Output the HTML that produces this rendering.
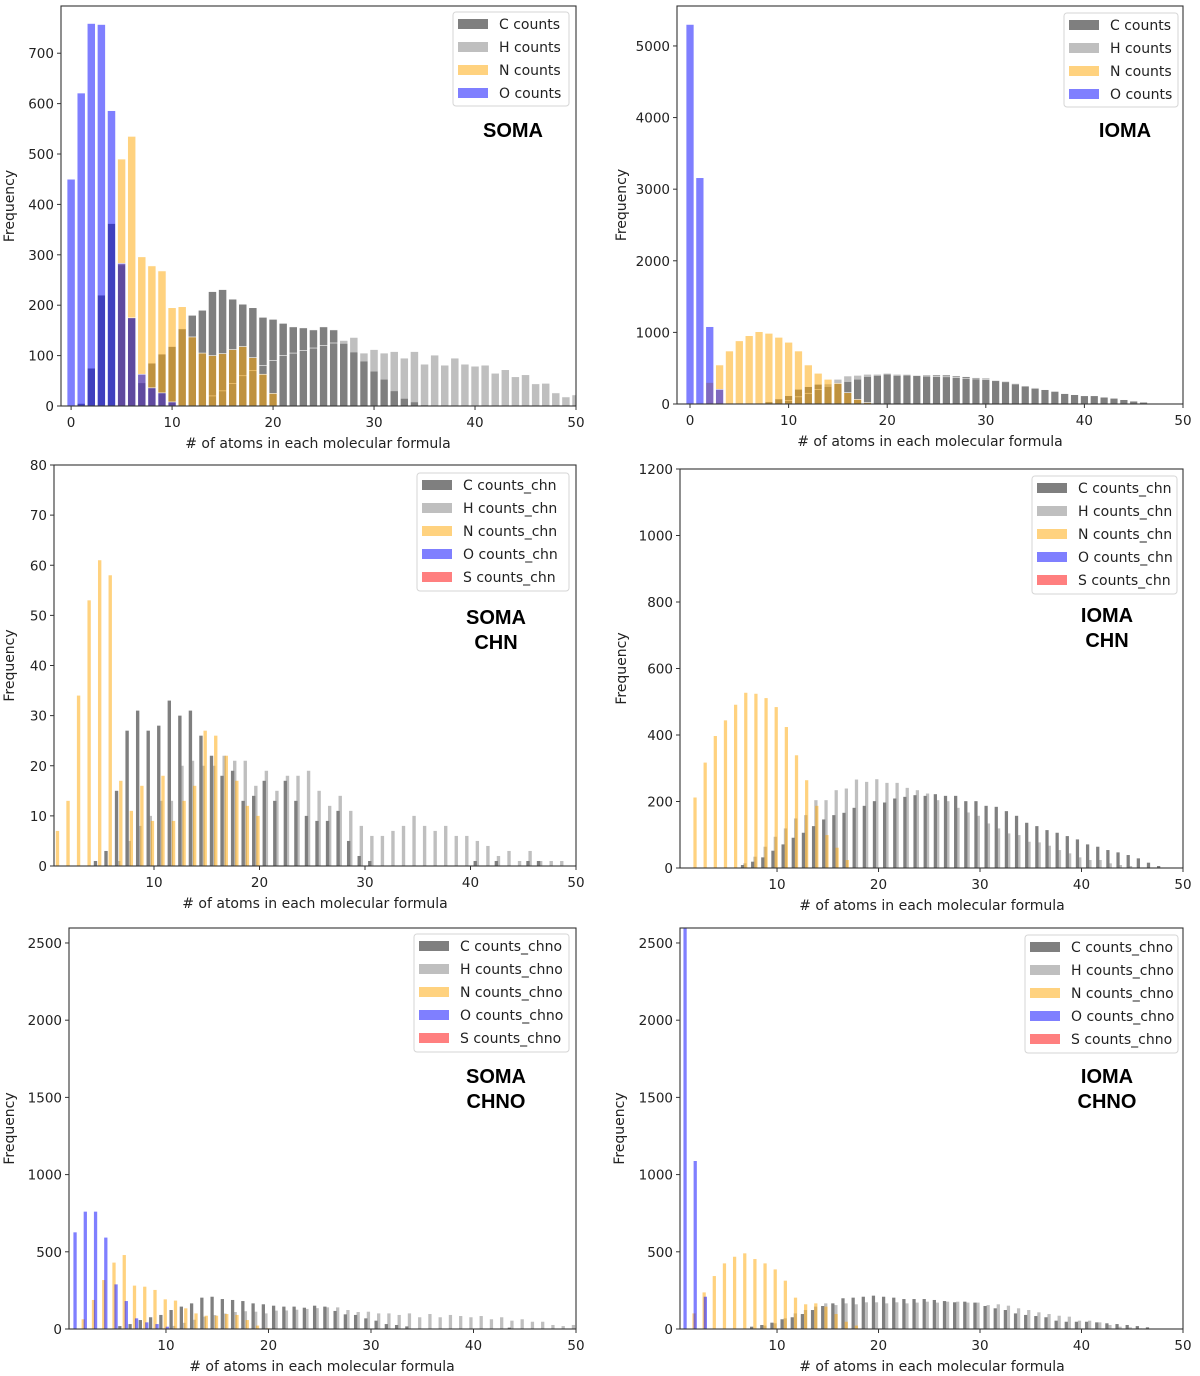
<!DOCTYPE html>
<html><head><meta charset="utf-8">
<style>
html,body{margin:0;padding:0;background:#fff;}
svg{display:block;font-family:"DejaVu Sans","Liberation Sans",sans-serif;}
</style></head>
<body>
<svg id="fig" width="1200" height="1376" viewBox="0 0 1200 1376" xmlns="http://www.w3.org/2000/svg"></svg>
<script>
// ---------- data ----------
// Panel 1: SOMA
const p1CStart = 1;
const p1C = [5,75,220,362,280,175,46,85,103,118,153,180,190,227,231,212,202,195,176,172,164,157,155,151,157,151,124,107,89,69,53,30,15,8,2];
const p1HStart = 14;
const p1H = [20,30,45,60,70,80,90,100,105,110,115,120,125,130,136,105,112,105,108,95,108,83,101,81,95,83,79,81,65,72,58,62,44,45,26,18,22];
const p1NStart = 5;
const p1N = [490,535,296,278,268,195,197,137,105,100,104,112,118,96,63,25];
const p1OStart = 0;
const p1O = [450,621,759,757,586,283,175,63,36,26,8];
const p1YTicks = [0,100,200,300,400,500,600,700];
// Panel 2: IOMA
const p2CStart = 8;
const p2C = [30,70,116,205,242,275,242,289,312,345,382,396,415,396,415,405,405,405,405,391,382,368,359,335,321,289,256,228,205,182,149,135,121,121,102,88,65,42,28,10];
const p2HStart = 10;
const p2H = [50,100,150,200,280,345,391,400,415,415,429,415,405,395,390,385,380,370,360,350,340,325,310,280,250,220,200,175,145,130,115,115,95,80,60,40,25,8];
const p2NStart = 2;
const p2N = [300,545,740,882,954,1010,987,931,862,740,545,429,345,289,158,65,20];
const p2OStart = 0;
const p2O = [5300,3160,1080,205];
const p2YTicks = [0,1000,2000,3000,4000,5000];
// Panel 3: SOMA CHN
const p3CStart = 4;
const p3C = [1,3,15,27,31,27,28,33,30,31,26,22,18,19,13,14,17,13,17,13,10,9,9,11,5,2,1,0,0,0,0,0,0,0,0,0,1,0,1,0,0,1,1];
const p3HStart = 6;
const p3H = [1,5,8,10,13,13,20,21,20,20,22,21,21,16,19,15,18,18,19,15,12,14,11,8,6,6,7,8,10,8,7,8,6,6,5,4,2,3,1,3,1,1,1];
const p3NStart = 1;
const p3N = [7,13,34,53,61,58,17,11,16,9,18,9,13,16,27,26,22,17,12,10];
const p3OStart = 1;
const p3O = [];
const p3YTicks = [0,10,20,30,40,50,60,70,80];
// Panel 4: IOMA CHN
const p4CStart = 6;
const p4C = [9,19,32,52,71,91,106,126,146,159,166,181,187,201,197,209,214,219,217,222,217,217,201,201,187,184,171,157,136,126,114,106,96,86,71,64,54,47,39,29,16,6];
const p4HStart = 6;
const p4H = [14,34,64,94,119,149,159,204,204,234,239,266,259,267,256,256,241,234,224,204,201,181,167,157,134,119,104,99,79,77,67,54,44,32,24,24,14,9,6];
const p4NStart = 2;
const p4N = [212,317,397,444,491,527,524,511,484,424,339,264,187,99,61,24];
const p4OStart = 1;
const p4O = [];
const p4YTicks = [0,200,400,600,800,1000,1200];
// Panel 5: SOMA CHNO
const p5CStart = 5;
const p5C = [19,32,58,76,91,123,145,166,203,209,194,188,181,166,160,151,145,145,138,151,145,117,95,91,69,54,32,26,17,0,0,0,0,0,0,0,0,0,9];
const p5HStart = 10;
const p5H = [20,40,60,80,90,100,110,115,112,101,119,120,125,130,135,140,140,123,110,112,101,101,91,101,76,97,76,91,84,76,84,63,76,54,63,47,47,26,19,26,20];
const p5NStart = 2;
const p5N = [63,188,317,430,479,281,274,253,192,184,134,101,86,86,97,91,58,22,5];
const p5OStart = 1;
const p5O = [626,760,760,592,289,181,69,43,32,15];
const p5YTicks = [0,500,1000,1500,2000,2500];
// Panel 6: IOMA CHNO
const p6CStart = 7;
const p6C = [15,26,41,63,76,97,123,149,166,199,203,209,216,209,203,194,194,194,188,181,173,177,171,149,134,123,101,91,84,76,54,47,47,47,43,37,32,26,19,11];
const p6HStart = 8;
const p6H = [22,37,69,101,123,145,166,155,166,160,173,173,166,173,166,171,177,171,177,177,171,171,155,160,151,134,123,108,97,86,80,54,54,43,26,15,11,4];
const p6NStart = 2;
const p6N = [101,237,343,425,468,490,453,425,386,313,203,160,166,145,97,47,22];
const p6OStart = 1;
const p6O = [3200,1088,209];
const p6YTicks = [0,500,1000,1500,2000,2500];
const xTicksWide = [0,10,20,30,40,50];
const xTicksNarrow = [10,20,30,40,50];

// ---------- rendering ----------
const NS = "http://www.w3.org/2000/svg";
const svg = document.getElementById('fig');
const COLORS = {C:'rgba(0,0,0,0.5)',H:'rgba(128,128,128,0.5)',N:'rgba(255,165,0,0.5)',O:'rgba(0,0,255,0.5)',S:'rgba(255,0,0,0.5)'};
function mk(tag, attrs, parent){
  const e = document.createElementNS(NS, tag);
  for (const k in attrs) e.setAttribute(k, attrs[k]);
  (parent||svg).appendChild(e);
  return e;
}
const defs = mk('defs',{});

const panels = [
 {id:'soma', L:61,R:576,T:6,B:406, xmin:-1.0,xmax:50, ymax:793.7, yt:p1YTicks, xt:xTicksWide, wide:true,
  series:[['C',p1CStart,p1C,0],['H',p1HStart,p1H,0],['N',p1NStart,p1N,0],['O',p1OStart,p1O,0]],
  leg:{x:453,y:12,w:116,h:94,labels:['C counts','H counts','N counts','O counts']},
  title:['SOMA'], tx:513, ty:137, ylx:14, xlx:318, xly:448},
 {id:'ioma', L:677,R:1183,T:6,B:404, xmin:-1.32,xmax:50, ymax:5558, yt:p2YTicks, xt:xTicksWide, wide:true,
  series:[['C',p2CStart,p2C,0],['H',p2HStart,p2H,0],['N',p2NStart,p2N,0],['O',p2OStart,p2O,0]],
  leg:{x:1064,y:13,w:114,h:94,labels:['C counts','H counts','N counts','O counts']},
  title:['IOMA'], tx:1125, ty:137, ylx:626, xlx:930, xly:446},
 {id:'soma-chn', L:54,R:576,T:465,B:866, xmin:0.52,xmax:50, ymax:80, yt:p3YTicks, xt:xTicksNarrow, wide:false,
  series:[['C',p3CStart,p3C,0.45],['H',p3HStart,p3H,0.65],['N',p3NStart,p3N,-0.15],['O',p3OStart,p3O,0]],
  leg:{x:417,y:473,w:152,h:118,labels:['C counts_chn','H counts_chn','N counts_chn','O counts_chn','S counts_chn']},
  title:['SOMA','CHN'], tx:496, ty:624, ylx:14, xlx:315, xly:908},
 {id:'ioma-chn', L:680,R:1183,T:469,B:868, xmin:0.44,xmax:50, ymax:1200, yt:p4YTicks, xt:xTicksNarrow, wide:false,
  series:[['C',p4CStart,p4C,0.6],['H',p4HStart,p4H,0.83],['N',p4NStart,p4N,-0.08],['O',p4OStart,p4O,0]],
  leg:{x:1032,y:476,w:145,h:118,labels:['C counts_chn','H counts_chn','N counts_chn','O counts_chn','S counts_chn']},
  title:['IOMA','CHN'], tx:1107, ty:622, ylx:626, xlx:932, xly:910},
 {id:'soma-chno', L:69,R:576,T:928,B:1329, xmin:0.54,xmax:50, ymax:2597, yt:p5YTicks, xt:xTicksNarrow, wide:false,
  series:[['C',p5CStart,p5C,0.5],['H',p5HStart,p5H,0.75],['N',p5NStart,p5N,-0.07],['O',p5OStart,p5O,0.13]],
  leg:{x:414,y:934,w:155,h:118,labels:['C counts_chno','H counts_chno','N counts_chno','O counts_chno','S counts_chno']},
  title:['SOMA','CHNO'], tx:496, ty:1083, ylx:14, xlx:322, xly:1371},
 {id:'ioma-chno', L:680,R:1183,T:928,B:1329, xmin:0.44,xmax:50, ymax:2597, yt:p6YTicks, xt:xTicksNarrow, wide:false,
  series:[['C',p6CStart,p6C,0.5],['H',p6HStart,p6H,0.8],['N',p6NStart,p6N,-0.18],['O',p6OStart,p6O,-0.06]],
  leg:{x:1025,y:935,w:153,h:118,labels:['C counts_chno','H counts_chno','N counts_chno','O counts_chno','S counts_chno']},
  title:['IOMA','CHNO'], tx:1107, ty:1083, ylx:624, xlx:932, xly:1371}
];

panels.forEach(function(p){
  const g = mk('g',{});
  
  
  const xs = function(v){ return p.L + (v - p.xmin) * (p.R - p.L) / (p.xmax - p.xmin); };
  const ys = function(v){ return p.B - v * (p.B - p.T) / p.ymax; };
  const cp = mk('clipPath',{id:'clip-'+p.id}, defs);
  mk('rect',{x:p.L,y:p.T,width:p.R-p.L,height:p.B-p.T}, cp);
  const bars = mk('g',{'clip-path':'url(#clip-'+p.id+')'}, g);
  const unit = (p.R - p.L) / (p.xmax - p.xmin);
  p.series.forEach(function(s){
    const key = s[0], start = s[1], vals = s[2], off = s[3];
    const w = p.wide ? 0.8 : 0.32;
    vals.forEach(function(v, i){
      if (v <= 0) return;
      const cx = xs(start + i + off);
      const r = mk('rect',{x:(cx - w*unit/2).toFixed(2), y:ys(v).toFixed(2), width:(w*unit).toFixed(2), height:(p.B - ys(v)).toFixed(2), fill:COLORS[key]}, bars);
      if (p.wide) { r.setAttribute('stroke','#fff'); r.setAttribute('stroke-width','0.6'); }
      
      
    });
  });
  const fr = mk('rect',{x:p.L,y:p.T,width:p.R-p.L,height:p.B-p.T,fill:'none',stroke:'#333','stroke-width':1.1}, g);
  
  
  p.yt.forEach(function(t){
    const y = ys(t);
    mk('line',{x1:p.L-4,x2:p.L,y1:y,y2:y,stroke:'#333','stroke-width':1}, g);
    const tx = mk('text',{x:p.L-7,y:y+5,'text-anchor':'end','font-size':13.5,fill:'#222'}, g);
    tx.textContent = t;
    
    
  });
  p.xt.forEach(function(t){
    const x = xs(t);
    mk('line',{x1:x,x2:x,y1:p.B,y2:p.B+4,stroke:'#333','stroke-width':1}, g);
    const tx = mk('text',{x:x,y:p.B+21,'text-anchor':'middle','font-size':13.5,fill:'#222'}, g);
    tx.textContent = t;
    
    
  });
  const xl = mk('text',{x:p.xlx,y:p.xly,'text-anchor':'middle','font-size':14,fill:'#222'}, g);
  xl.textContent = '# of atoms in each molecular formula';
  
  
  const ym = (p.T + p.B) / 2;
  const yl = mk('text',{x:p.ylx,y:ym,'text-anchor':'middle','font-size':14,fill:'#222',transform:'rotate(-90 '+p.ylx+' '+ym+')'}, g);
  yl.textContent = 'Frequency';
  
  
  const lg = mk('g',{}, g);
  
  
  mk('rect',{x:p.leg.x,y:p.leg.y,width:p.leg.w,height:p.leg.h,rx:3,fill:'rgba(255,255,255,0.8)',stroke:'#d6d6d6','stroke-width':1}, lg);
  const keys = ['C','H','N','O','S'];
  p.leg.labels.forEach(function(lab, i){
    const yy = p.leg.y + 12 + i * 23;
    const e = mk('g',{}, lg);
    
    
    mk('rect',{x:p.leg.x+5,y:yy-5,width:30,height:10,fill:COLORS[keys[i]]}, e);
    const t = mk('text',{x:p.leg.x+46,y:yy+5,'font-size':14,fill:'#222'}, e);
    t.textContent = lab;
  });
  p.title.forEach(function(line, i){
    const t = mk('text',{x:p.tx,y:p.ty + i*25,'text-anchor':'middle','font-size':20,'font-weight':'bold',fill:'#000','font-family':'Liberation Sans, sans-serif'}, g);
    t.textContent = line;
    
    
  });
});
</script>
</body></html>
